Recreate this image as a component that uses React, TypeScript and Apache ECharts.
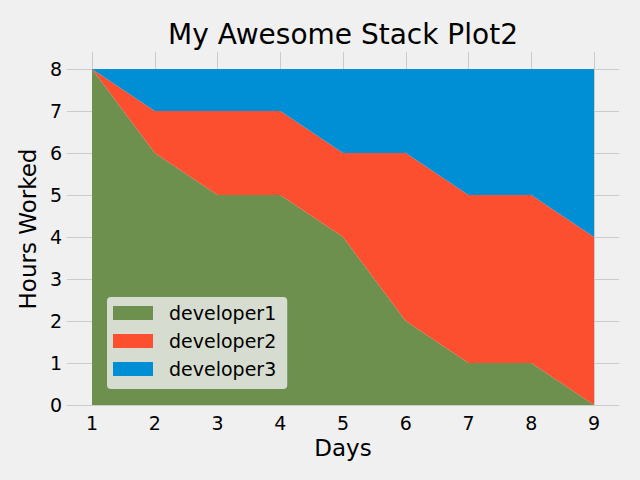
import React, { useEffect, useRef } from "react";
import * as echarts from "echarts";

const days = ["1", "2", "3", "4", "5", "6", "7", "8", "9"];
const developer1 = [8, 6, 5, 5, 4, 2, 1, 1, 0];
const developer2 = [0, 1, 2, 2, 2, 4, 4, 4, 4];
const developer3 = [0, 1, 1, 1, 2, 2, 3, 3, 4];
const seriesNames = ["developer1", "developer2", "developer3"];
const colors = ["#6d904f", "#fc4f30", "#008fd5"];

const FONT = "DejaVu Sans";
const GRID = "#cbcbcb";

export default function App() {
  const ref = useRef<HTMLDivElement>(null);
  useEffect(() => {
    if (!ref.current) return;
    const chart = echarts.init(ref.current, null, { renderer: "svg" });
    const values = [developer1, developer2, developer3];
    const split = { show: true, interval: 0, lineStyle: { color: GRID, width: 1 } };
    chart.setOption({
      animation: false,
      backgroundColor: "#f0f0f0",
      textStyle: { fontFamily: FONT },
      title: {
        text: "My Awesome Stack Plot2",
        left: 338,
        top: 15,
        textAlign: "center",
        textStyle: { fontFamily: FONT, fontSize: 28, fontWeight: "normal", color: "#000" },
      },
      grid: [
        // data area
        { left: 92, right: 46, top: 69, bottom: 75, containLabel: false },
        // horizontal gridlines spanning the full axes width
        { left: 67, right: 21, top: 69, bottom: 75, containLabel: false },
        // vertical gridlines spanning the full axes height
        { left: 92, right: 46, top: 52, bottom: 75, containLabel: false },
      ],
      legend: {
        orient: "vertical",
        left: 107,
        top: 297,
        data: seriesNames,
        icon: "rect",
        itemWidth: 40,
        itemHeight: 14,
        itemGap: 8,
        padding: [6, 11, 10, 6],
        backgroundColor: "rgba(240,240,240,0.8)",
        borderRadius: 4,
        textStyle: { fontFamily: FONT, fontSize: 19, color: "#000", lineHeight: 20, padding: [0, 0, 0, 11] },
      },
      xAxis: [
        {
          gridIndex: 0,
          type: "category",
          data: days,
          boundaryGap: false,
          name: "Days",
          nameLocation: "middle",
          nameGap: 29,
          nameTextStyle: { fontFamily: FONT, fontSize: 23, color: "#000" },
          axisLine: { show: false },
          axisTick: { show: false },
          axisLabel: { margin: 8, fontFamily: FONT, fontSize: 19, color: "#000", interval: 0 },
          splitLine: { show: false },
        },
        {
          gridIndex: 1,
          type: "category",
          data: days,
          boundaryGap: false,
          show: false,
        },
        {
          gridIndex: 2,
          type: "category",
          data: days,
          boundaryGap: false,
          axisLine: { show: false },
          axisTick: { show: false },
          axisLabel: { show: false },
          splitLine: split,
        },
      ],
      yAxis: [
        {
          gridIndex: 0,
          type: "value",
          min: 0,
          max: 8,
          interval: 1,
          name: "Hours Worked",
          nameLocation: "middle",
          nameGap: 48,
          nameTextStyle: { fontFamily: FONT, fontSize: 23, color: "#000", padding: [0, 0, 0, 16] },
          axisLine: { show: false },
          axisTick: { show: false },
          axisLabel: { margin: 30, fontFamily: FONT, fontSize: 19, color: "#000" },
          splitLine: { show: false },
        },
        {
          gridIndex: 1,
          type: "value",
          min: 0,
          max: 8,
          interval: 1,
          axisLine: { show: false },
          axisTick: { show: false },
          axisLabel: { show: false },
          splitLine: split,
        },
        {
          gridIndex: 2,
          type: "value",
          min: 0,
          max: 8,
          interval: 1,
          show: false,
        },
      ],
      series: seriesNames.map((name, i) => ({
        name,
        type: "line",
        stack: "total",
        xAxisIndex: 0,
        yAxisIndex: 0,
        data: values[i],
        showSymbol: false,
        symbol: "none",
        color: colors[i],
        lineStyle: { width: 0, color: colors[i] },
        areaStyle: { color: colors[i], opacity: 1 },
        z: 3,
      })),
    });
    return () => chart.dispose();
  }, []);
  return <div ref={ref} style={{ width: 640, height: 480, position: "absolute", left: 0, top: 0 }} />;
}
